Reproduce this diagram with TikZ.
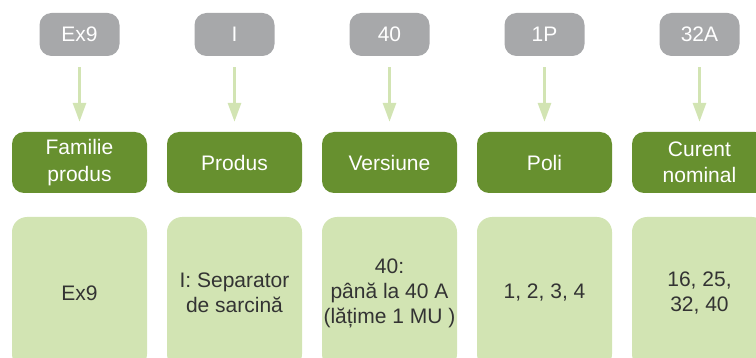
\documentclass[tikz,border=0pt]{standalone}
\usepackage{fontspec}
\setmainfont{Liberation Sans}
\usetikzlibrary{arrows.meta}
\definecolor{codegray}{HTML}{A7A8AA}
\definecolor{catgreen}{HTML}{67902F}
\definecolor{valgreen}{HTML}{D2E4B3}
\definecolor{arrgreen}{HTML}{D2E4B3}
\definecolor{txtdark}{HTML}{333333}
\begin{document}
\begin{tikzpicture}[x=1pt,y=-1pt,
  codebox/.style={fill=codegray,rounded corners=12pt,minimum width=80pt,minimum height=43pt,
    text=white,font=\fontsize{21}{26}\selectfont,inner sep=0pt},
  catbox/.style={fill=catgreen,rounded corners=12pt,minimum width=135pt,minimum height=61pt,
    text=white,font=\fontsize{21}{26.5}\selectfont,align=center,inner sep=0pt},
  valbox/.style={fill=valgreen,rounded corners=15pt,minimum width=135pt,minimum height=152pt,
    text=txtdark,font=\fontsize{21}{25}\selectfont,align=center,inner sep=0pt},
  arr/.style={draw=arrgreen,line width=3pt,-{Triangle[width=13pt,length=19pt]},
    shorten <=11pt,shorten >=10pt}]
\useasboundingbox (0,0) rectangle (756,358);
\clip (0,0) rectangle (756,358);
\foreach \i/\x/\code/\cat/\val in {
  1/79.5/Ex9/{Familie\\produs}/Ex9,
  2/234.5/I/Produs/{I: Separator\\de sarcină},
  3/389.5/40/Versiune/{40:\\până la 40 A\\(lățime 1 MU )},
  4/544.5/1P/Poli/{1, 2, 3, 4},
  5/699.5/32A/{Curent\\nominal}/{16, 25,\\32, 40}}{
  \node[codebox] (g\i) at (\x,34.5) {\code};
  \node[catbox] (c\i) at (\x,162.5) {\cat};
  \node[valbox] (v\i) at (\x,293) {\val};
  \draw[arr] (g\i.south) -- (c\i.north);
}
\end{tikzpicture}
\end{document}
